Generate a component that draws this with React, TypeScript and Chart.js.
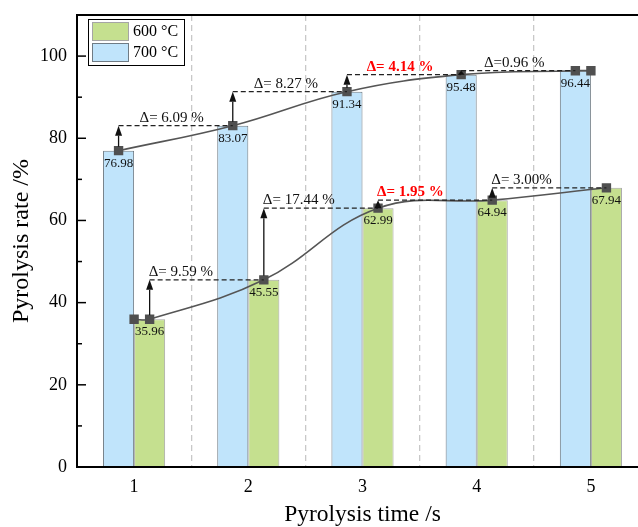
import { useEffect, useRef } from 'react';
import { Chart, registerables } from 'chart.js';

Chart.register(...registerables);

const categories = ['1', '2', '3', '4', '5'];
const rate600 = [35.96, 45.55, 62.99, 64.94, 67.94];
const rate700 = [76.98, 83.07, 91.34, 95.48, 96.44];
const delta600Labels = ['Δ= 9.59 %', 'Δ= 17.44 %', 'Δ= 1.95 %', 'Δ= 3.00%'];
const delta700Labels = ['Δ= 6.09 %', 'Δ= 8.27 %', 'Δ= 4.14 %', 'Δ=0.96 %'];
const delta600Highlight = [false, false, true, false];
const delta700Highlight = [false, false, true, false];
const seriesNames = ['600 °C', '700 °C'];

const FONT = '"Liberation Serif", "Times New Roman", serif';
const BAR_FRACTION = 0.544;
const OFF = BAR_FRACTION / 4;

const GREEN = '#c5e08f';
const GREEN_BORDER = '#a5a5a5';
const BLUE = '#c0e4fb';
const BLUE_BORDER = '#6f7b84';
const LINE = '#555555';

const catX = categories.map((c) => Number(c));
const bars700 = rate700.map((v, i) => ({ x: catX[i], y: v }));
const bars600 = rate600.map((v, i) => ({ x: catX[i], y: v }));
const line700 = [
  ...rate700.map((v, i) => ({ x: catX[i] - OFF, y: v })),
  { x: catX[catX.length - 1], y: rate700[rate700.length - 1] },
];
const line600 = [
  { x: catX[0], y: rate600[0] },
  ...rate600.map((v, i) => ({ x: catX[i] + OFF, y: v })),
];

function drawArrow(ctx: CanvasRenderingContext2D, x: number, y0: number, y1: number) {
  const len = y0 - y1;
  const head = Math.min(10, Math.max(3, len));
  ctx.save();
  ctx.strokeStyle = '#111';
  ctx.fillStyle = '#111';
  ctx.lineWidth = 1.3;
  ctx.setLineDash([]);
  if (len - head > 4) {
    ctx.beginPath();
    ctx.moveTo(x, y0 - 4);
    ctx.lineTo(x, y1 + head);
    ctx.stroke();
  }
  ctx.beginPath();
  ctx.moveTo(x, y1);
  ctx.lineTo(x - 3.5, y1 + head);
  ctx.lineTo(x + 3.5, y1 + head);
  ctx.closePath();
  ctx.fill();
  ctx.restore();
}

const annotPlugin = {
  id: 'annot',
  afterDatasetsDraw(chart: any) {
    const { ctx, chartArea, scales } = chart;
    const xs = scales.x;
    const ys = scales.y;

    const series = [
      { vals: rate700, dir: -1, labels: delta700Labels, hl: delta700Highlight, align: 'center' },
      { vals: rate600, dir: 1, labels: delta600Labels, hl: delta600Highlight, align: 'left' },
    ];

    series.forEach((s) => {
      for (let i = 0; i < s.vals.length - 1; i++) {
        const xa = xs.getPixelForValue(catX[i] + s.dir * OFF);
        const xb = xs.getPixelForValue(catX[i + 1] + s.dir * OFF);
        const ya = ys.getPixelForValue(s.vals[i]);
        const yb = ys.getPixelForValue(s.vals[i + 1]);
        ctx.save();
        ctx.strokeStyle = '#222';
        ctx.lineWidth = 1.2;
        ctx.setLineDash([5, 3]);
        ctx.beginPath();
        ctx.moveTo(xa, yb);
        ctx.lineTo(xb, yb);
        ctx.stroke();
        ctx.restore();
        drawArrow(ctx, xa, ya, yb);
        ctx.save();
        ctx.font = (s.hl[i] ? 'bold ' : '') + '15px ' + FONT;
        ctx.fillStyle = s.hl[i] ? '#ff0000' : '#111';
        ctx.textBaseline = 'alphabetic';
        if (s.align === 'center') {
          ctx.textAlign = 'center';
          ctx.fillText(s.labels[i], (xa + xb) / 2 - 4, yb - 4);
        } else {
          ctx.textAlign = 'left';
          ctx.fillText(s.labels[i], xa - 1, yb - 4);
        }
        ctx.restore();
      }
      s.vals.forEach((v, i) => {
        const x = xs.getPixelForValue(catX[i] + s.dir * OFF);
        const y = ys.getPixelForValue(v);
        ctx.save();
        ctx.font = '13px ' + FONT;
        ctx.fillStyle = '#111';
        ctx.textAlign = 'center';
        ctx.textBaseline = 'top';
        ctx.fillText(v.toFixed(2), x, y + 6);
        ctx.restore();
      });
    });

    // inside y ticks
    ctx.save();
    ctx.strokeStyle = '#000';
    ctx.lineWidth = 1.5;
    ys.ticks.forEach((t: any) => {
      const y = ys.getPixelForValue(t.value);
      const major = t.value % 20 === 0;
      ctx.beginPath();
      ctx.moveTo(chartArea.left, y);
      ctx.lineTo(chartArea.left + (major ? 9 : 5), y);
      ctx.stroke();
    });
    ctx.restore();

    // top & right frame
    ctx.save();
    ctx.strokeStyle = '#000';
    ctx.lineWidth = 2;
    ctx.beginPath();
    ctx.moveTo(chartArea.left - 1, chartArea.top);
    ctx.lineTo(chartArea.right, chartArea.top);
    ctx.lineTo(chartArea.right, chartArea.bottom);
    ctx.stroke();
    ctx.restore();

    // legend
    const lx = chartArea.left + 11;
    const ly = chartArea.top + 4;
    ctx.save();
    ctx.fillStyle = '#fff';
    ctx.fillRect(lx, ly, 96, 46);
    ctx.strokeStyle = '#000';
    ctx.lineWidth = 1;
    ctx.strokeRect(lx + 0.5, ly + 0.5, 96, 46);
    const items = [
      { name: seriesNames[0], fill: GREEN, border: GREEN_BORDER },
      { name: seriesNames[1], fill: BLUE, border: BLUE_BORDER },
    ];
    items.forEach((it, k) => {
      const sy = ly + 3 + k * 21;
      ctx.fillStyle = it.fill;
      ctx.fillRect(lx + 4, sy, 37, 19);
      ctx.strokeStyle = it.border;
      ctx.lineWidth = 1;
      ctx.strokeRect(lx + 4.5, sy + 0.5, 36, 18);
      ctx.fillStyle = '#000';
      ctx.font = '16px ' + FONT;
      ctx.textAlign = 'left';
      ctx.textBaseline = 'middle';
      ctx.fillText(it.name, lx + 45, sy + 10);
    });
    ctx.restore();
  },
};

const lineStyle = {
  type: 'line',
  xAxisID: 'x',
  yAxisID: 'y',
  borderColor: LINE,
  borderWidth: 1.6,
  backgroundColor: '#505050',
  pointBackgroundColor: '#505050',
  pointBorderColor: '#505050',
  pointStyle: 'rect',
  pointRadius: 5.5,
  tension: 0.4,
  fill: false,
  order: 1,
};

export default function App() {
  const ref = useRef<HTMLCanvasElement | null>(null);

  useEffect(() => {
    if (!ref.current) return;
    const chart = new Chart(ref.current, {
      type: 'bar',
      data: {
        datasets: [
          { ...lineStyle, label: seriesNames[1] + ' line', data: line700 } as any,
          { ...lineStyle, label: seriesNames[0] + ' line', data: line600 } as any,
          {
            type: 'bar',
            label: seriesNames[1],
            data: bars700,
            xAxisID: 'x',
            yAxisID: 'y',
            backgroundColor: BLUE,
            borderColor: BLUE_BORDER,
            borderWidth: 1,
            categoryPercentage: BAR_FRACTION,
            barPercentage: 1,
            order: 2,
          } as any,
          {
            type: 'bar',
            label: seriesNames[0],
            data: bars600,
            xAxisID: 'x',
            yAxisID: 'y',
            backgroundColor: GREEN,
            borderColor: GREEN_BORDER,
            borderWidth: 1,
            categoryPercentage: BAR_FRACTION,
            barPercentage: 1,
            order: 2,
          } as any,
        ],
      },
      options: {
        responsive: false,
        animation: false,
        devicePixelRatio: 1,
        layout: { padding: { left: 0, right: 12, top: 15, bottom: 0 } },
        plugins: { legend: { display: false }, tooltip: { enabled: false } },
        scales: {
          x: {
            type: 'linear',
            min: catX[0] - 0.5,
            max: catX[catX.length - 1] + 0.5,
            offset: false,
            afterBuildTicks: (s: any) => {
              s.ticks = catX.map((v) => ({ value: v }));
            },
            grid: { display: true, offset: true, color: '#c8c8c8', lineWidth: 1.3, drawTicks: false },
            border: { display: true, color: '#000', width: 2, dash: [6, 4], z: 1 },
            ticks: {
              autoSkip: false,
              maxRotation: 0,
              color: '#000',
              font: { family: FONT, size: 18 },
              padding: 9,
              callback: (v: any) => String(v),
            },
            title: {
              display: true,
              text: 'Pyrolysis time /s',
              color: '#000',
              font: { family: FONT, size: 23.5, lineHeight: 1 },
              padding: { top: 0, bottom: 0 },
            },
            afterFit: (s: any) => {
              s.height = 60;
              s.paddingLeft = 0;
              s.paddingRight = 0;
            },
          },
          y: {
            type: 'linear',
            min: 0,
            max: 110,
            grid: { display: false, drawTicks: false },
            border: { display: true, color: '#000', width: 2, z: 1 },
            ticks: {
              stepSize: 10,
              color: '#000',
              font: { family: FONT, size: 18 },
              padding: 10,
              callback: (v: any) => (Number(v) % 20 === 0 ? String(v) : ''),
            },
            title: {
              display: true,
              text: 'Pyrolysis rate /%',
              color: '#000',
              font: { family: FONT, size: 24, lineHeight: 1 },
              padding: { top: 10, bottom: 0 },
            },
            afterFit: (s: any) => {
              s.width = 77;
              s.paddingTop = 0;
              s.paddingBottom = 0;
            },
          },
        },
      } as any,
      plugins: [annotPlugin],
    });
    return () => chart.destroy();
  }, []);

  return (
    <div
      style={{
        position: 'fixed',
        left: 0,
        top: 0,
        width: 638,
        height: 527,
        overflow: 'hidden',
        background: '#fff',
      }}
    >
      <canvas ref={ref} width={660} height={527} style={{ display: 'block', width: 660, height: 527 }} />
    </div>
  );
}
